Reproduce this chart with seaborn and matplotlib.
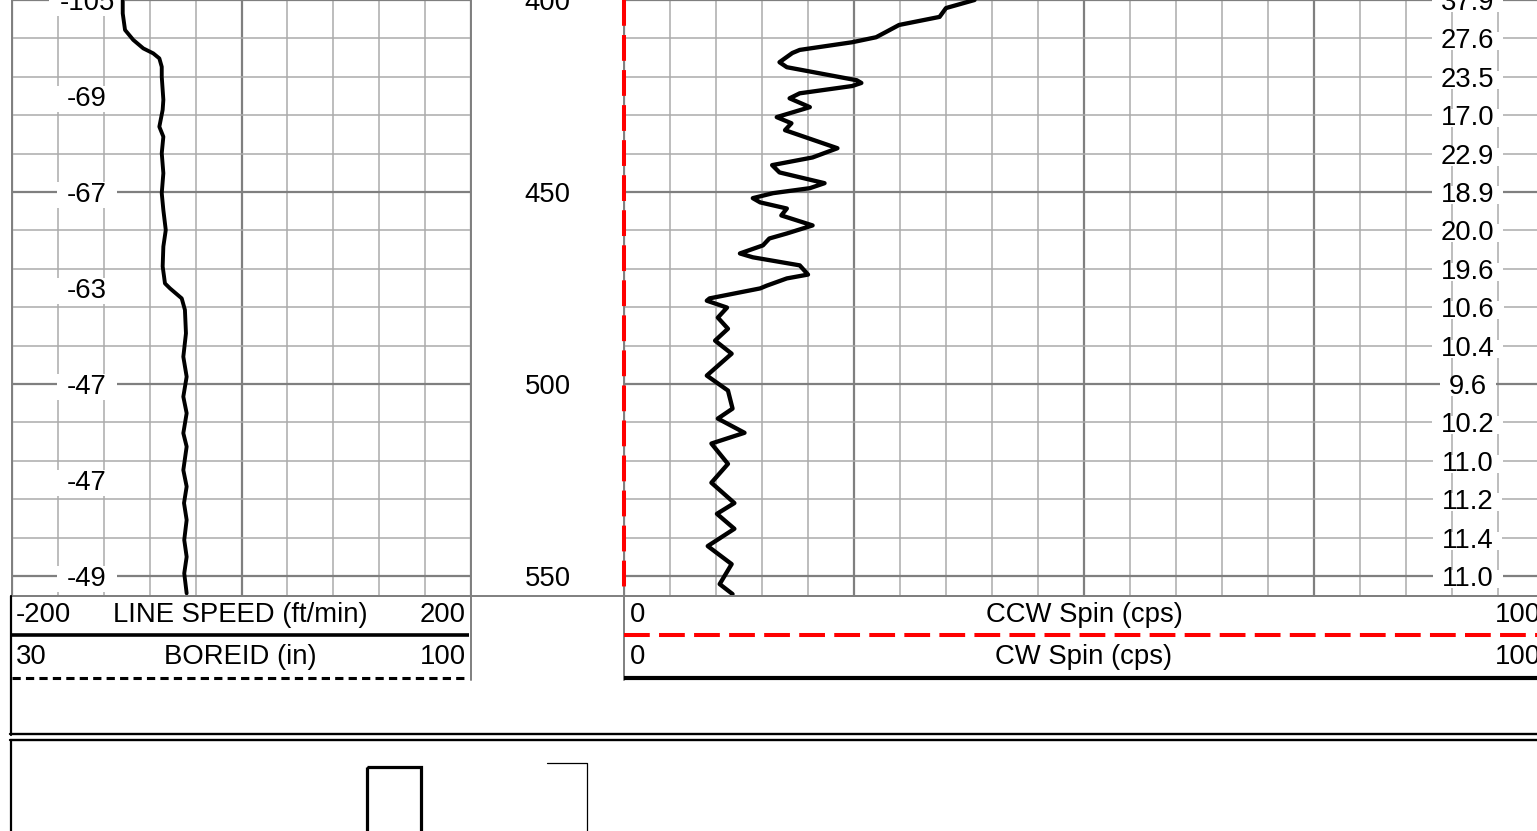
import numpy as np
import matplotlib
matplotlib.use("Agg")
import matplotlib.pyplot as plt
import seaborn as sns
from matplotlib.path import Path
from matplotlib.patches import Rectangle
from functools import partial

ls_depth = [400.0, 403.5, 407.8, 410.4, 412.6, 413.9, 415.2, 417.4, 420.0, 426.0,
            428.6, 433.0, 435.6, 439.9, 445.1, 450.3, 454.7, 459.9, 464.2, 469.4,
            472.0, 473.8, 475.1, 477.7, 480.7, 486.8, 492.9, 498.1, 503.3, 507.6,
            512.8, 516.3, 522.4, 526.7, 531.0, 535.4, 540.6, 545.0, 549.3, 554.5]
ls_speed = [-103.5, -103.5, -101.5, -94.3, -85.6, -76.9, -71.6, -69.5, -69.5, -68.1,
            -68.7, -71.6, -68.1, -69.5, -68.1, -69.5, -68.1, -66.0, -68.1, -68.7,
            -67.5, -66.7, -62.3, -52.1, -49.3, -48.4, -50.7, -47.8, -50.7, -47.8,
            -50.7, -47.8, -50.7, -47.8, -50.1, -47.8, -49.9, -47.8, -49.9, -47.8]

cw_depth = [400.0, 402.1, 404.4, 406.5, 408.3, 409.7, 411.0, 413.0, 413.8, 416.2,
            417.5, 420.9, 421.6, 422.4, 424.3, 425.6, 427.9, 428.7, 430.5, 432.1,
            433.9, 438.6, 441.0, 443.0, 444.9, 447.7, 449.0, 450.3, 451.6, 452.7,
            454.3, 456.1, 458.7, 460.8, 462.1, 463.9, 466.0, 467.0, 469.1, 471.5,
            472.5, 474.4, 475.1, 477.7, 478.3, 480.1, 482.7, 485.6, 488.7, 492.1,
            497.8, 501.7, 506.4, 509.0, 512.7, 515.5, 520.8, 525.7, 531.0, 533.8,
            537.7, 542.2, 546.9, 552.1, 554.7]
cw_spin = [38.1, 35.0, 34.3, 29.9, 28.5, 27.4, 24.8, 19.1, 18.3, 16.9,
           17.7, 25.3, 25.8, 24.8, 19.1, 18.0, 20.2, 19.1, 16.6, 18.2,
           17.5, 23.2, 20.5, 16.1, 16.9, 21.8, 20.2, 16.2, 14.0, 14.8,
           17.7, 17.1, 20.5, 17.7, 15.8, 15.1, 12.6, 14.0, 19.1, 20.0,
           17.7, 15.5, 14.8, 9.3, 9.0, 11.2, 10.2, 11.3, 9.9, 11.7,
           9.0, 11.3, 11.8, 10.2, 13.1, 9.5, 11.3, 9.5, 12.0, 10.1,
           12.0, 9.1, 11.7, 10.4, 11.8]

ccw_depth = [400.0, 555.2]
ccw_spin = [0.0, 0.0]

ls_label_depths = [400, 425, 450, 475, 500, 525, 550]
ls_labels = ["-105", "-69", "-67", "-63", "-47", "-47", "-49"]

depth_labels = [400, 450, 500, 550]

spin_label_depths = [400, 410, 420, 430, 440, 450, 460, 470, 480, 490,
                     500, 510, 520, 530, 540, 550]
spin_labels = ["37.9", "27.6", "23.5", "17.0", "22.9", "18.9", "20.0", "19.6",
               "10.6", "10.4", "9.6", "10.2", "11.0", "11.2", "11.4", "11.0"]

# ---------------- style ----------------
sns.set_style("white")
plt.rcParams["font.family"] = ["Liberation Sans", "DejaVu Sans"]
plt.rcParams["text.color"] = "black"
FS = 19.8
TOP, BOTTOM = 400.0, 555.2
W, H = 1537, 831
MAJ_C, MIN_C = "#7f7f7f", "#ababab"

fig = plt.figure(figsize=(W / 100, H / 100), dpi=100)


def px_axes(x0, y0, x1, y1, **kw):
    return fig.add_axes([x0 / W, 1 - y1 / H, (x1 - x0) / W, (y1 - y0) / H], **kw)


def pad_box(x0, y0, width, height, mutation_size, padx=0.0, pady=0.0):
    x0 -= padx
    x1 = x0 + width + 2 * padx
    y0 -= pady
    y1 = y0 + height + 2 * pady
    return Path([(x0, y0), (x1, y0), (x1, y1), (x0, y1), (x0, y0)], closed=True)


def setup_track(ax, xmin, xmax, major, minor):
    ax.set_xlim(xmin, xmax)
    ax.set_ylim(BOTTOM, TOP)
    ax.set_xticks(np.arange(xmin, xmax + 0.1, major))
    ax.set_xticks(np.arange(xmin, xmax + 0.1, minor), minor=True)
    ax.set_yticks(np.arange(400, 551, 50))
    ax.set_yticks(np.arange(400, 556, 10), minor=True)
    ax.set_axisbelow(True)
    ax.grid(which="minor", color=MIN_C, lw=1.1)
    ax.grid(which="major", color=MAJ_C, lw=1.6)
    ax.tick_params(which="both", length=0, labelbottom=False, labelleft=False)
    ax.set_xlabel("")
    ax.set_ylabel("")
    for name, sp in ax.spines.items():
        sp.set_color(MAJ_C)
        sp.set_linewidth(1.4)
    ax.spines["top"].set_visible(False)


# ---------------- tracks ----------------
ax_ls = px_axes(12, 0, 471, 596)
ax_dp = px_axes(471, 0, 624, 596)
ax_sp = px_axes(624, 0, 1544, 596)

sns.lineplot(x=ls_speed, y=ls_depth, orient="y", estimator=None, ax=ax_ls,
             color="black", lw=2.8, zorder=5, legend=False,
             solid_joinstyle="round", solid_capstyle="round")
setup_track(ax_ls, -200, 200, 200, 40)

sns.lineplot(x=cw_spin, y=cw_depth, orient="y", estimator=None, ax=ax_sp,
             color="black", lw=3.1, zorder=5, legend=False,
             solid_joinstyle="round", solid_capstyle="round")
sns.lineplot(x=ccw_spin, y=ccw_depth, orient="y", estimator=None, ax=ax_sp,
             color="red", lw=2.9, zorder=6, legend=False,
             linestyle=(0, (6.4, 2.3)), clip_on=False)
setup_track(ax_sp, 0, 100, 25, 5)

ax_dp.set_ylim(BOTTOM, TOP)
ax_dp.axis("off")
for d in depth_labels:
    ax_dp.text(0.5, d, str(d), transform=ax_dp.get_yaxis_transform(),
               ha="center", va="center_baseline", fontsize=FS, color="black")

left_box = partial(pad_box, padx=10, pady=0)
for d, lab in zip(ls_label_depths, ls_labels):
    ax_ls.text(0.1634, d, lab, transform=ax_ls.get_yaxis_transform(),
               ha="center", va="center_baseline", fontsize=FS, zorder=3,
               color="black",
               bbox=dict(boxstyle=left_box, fc="white", ec="none"))

right_box = partial(pad_box, padx=9, pady=-4)
for d, lab in zip(spin_label_depths, spin_labels):
    ax_sp.text(91.7, d, lab, ha="center", va="center_baseline", fontsize=FS,
               zorder=3, color="black",
               bbox=dict(boxstyle=right_box, fc="white", ec="none"))

# ---------------- header / frame overlay (pixel coordinates) ----------------
ax_bg = fig.add_axes([0, 0, 1, 1], zorder=10)
ax_bg.set_xlim(0, W)
ax_bg.set_ylim(H, 0)
ax_bg.axis("off")
ax_bg.patch.set_visible(False)

ax_bg.plot([12, 1537], [596, 596], color=MAJ_C, lw=1.4)
ax_bg.plot([471, 471], [596, 680], color=MAJ_C, lw=1.4)
ax_bg.plot([624, 624], [596, 680], color=MAJ_C, lw=1.4)
ax_bg.plot([11, 11], [596, 735], color="black", lw=1.6)
ax_bg.plot([11, 11], [740, 835], color="black", lw=1.6)
ax_bg.plot([10, 1540], [734, 734], color="black", lw=1.7)
ax_bg.plot([10, 1540], [740, 740], color="black", lw=1.7)

ax_bg.plot([12, 469], [635, 635], color="black", lw=2.6, solid_capstyle="butt")
ax_bg.plot([12, 466], [678, 678], color="black", lw=2.2,
           linestyle=(0, (2.7, 1.7)))
ax_bg.plot([624, 1544], [635, 635], color="red", lw=2.9,
           linestyle=(0, (6.4, 2.3)))
ax_bg.plot([624, 1544], [678, 678], color="black", lw=3.0, solid_capstyle="butt")

ax_bg.add_patch(Rectangle((367, 767), 54, 80, fill=False, ec="black", lw=2.3))
ax_bg.plot([547, 587, 587], [763, 763, 840], color="black", lw=0.9)

hdr = [
    ("-200", 16, 615, "left"), ("LINE SPEED (ft/min)", 240, 615, "center"),
    ("200", 466, 615, "right"),
    ("30", 16, 657, "left"), ("BOREID (in)", 240, 657, "center"),
    ("100", 466, 657, "right"),
    ("0", 630, 615, "left"), ("CCW Spin (cps)", 1084, 615, "center"),
    ("100", 1541, 615, "right"),
    ("0", 630, 657, "left"), ("CW Spin (cps)", 1084, 657, "center"),
    ("100", 1541, 657, "right"),
]
for s, x, y, ha in hdr:
    ax_bg.text(x, y, s, ha=ha, va="center", fontsize=FS, color="black")

fig.savefig("out.png", dpi=100)
